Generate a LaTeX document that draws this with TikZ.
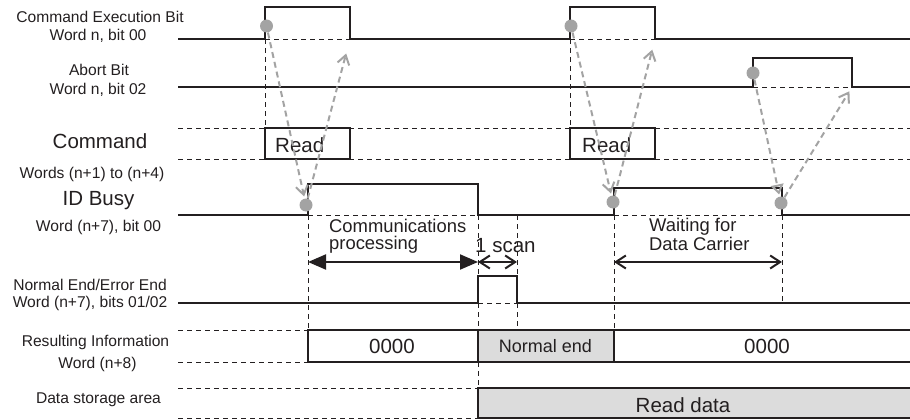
\documentclass[tikz,border=0pt]{standalone}
\usepackage{fontspec}
\setmainfont{Liberation Sans}
\usepackage{tikz}
\usetikzlibrary{arrows.meta,positioning,calc}
\definecolor{ink}{HTML}{231F20}
\definecolor{tapgray}{HTML}{A3A3A3}
\definecolor{fillgray}{HTML}{DCDCDC}

\begin{document}
\begin{tikzpicture}[x=1pt,y=-1pt,>=Latex,
 sig/.style={draw=ink,line width=2pt},
 guide/.style={draw=ink,line width=0.9pt,dash pattern=on 5pt off 4pt},
 trig/.style={draw=tapgray,line width=2pt,dash pattern=on 6pt off 4pt,-{Straight Barb[length=9pt,width=12pt]}},
 tapdot/.style={circle,fill=tapgray,minimum size=13pt,inner sep=0pt},
 lbl/.style={anchor=base,inner sep=0pt,text=ink,font=\fontsize{15.6}{17}\selectfont},
 biglbl/.style={anchor=base,inner sep=0pt,text=ink,font=\fontsize{20.5}{22}\selectfont},
 midlbl/.style={anchor=base west,inner sep=0pt,text=ink,align=left,font=\fontsize{18.4}{16.5}\selectfont},
 span/.style={draw=ink,line width=2pt,{Straight Barb[length=10pt,width=13pt]}-{Straight Barb[length=10pt,width=13pt]}}]
 \useasboundingbox (0,0) rectangle (910,420);
 % row labels
 \node[lbl] (cebA) at (100,23) {Command Execution Bit};
 \node[lbl] (cebB) at (98,41) {Word n, bit 00};
 \node[lbl] (abtA) at (99,76) {Abort Bit};
 \node[lbl] (abtB) at (98,94) {Word n, bit 02};
 \node[biglbl] (cmdA) at (100,148) {Command};
 \node[lbl] (cmdB) at (92,178) {Words (n+1) to (n+4)};
 \node[biglbl] (bsyA) at (98.5,205) {ID Busy};
 \node[lbl] (bsyB) at (98.5,231) {Word (n+7), bit 00};
 \node[lbl] (nrmA) at (90,290) {Normal End/Error End};
 \node[lbl] (nrmB) at (90,307) {Word (n+7), bits 01/02};
 \node[lbl] (resA) at (95.5,346) {Resulting Information};
 \node[lbl] (resB) at (97.5,368) {Word (n+8)};
 \node[lbl] (datA) at (98.5,403) {Data storage area};
 % dashed guides
 \draw[guide] (178,128) -- (910,128) (178,159) -- (910,159);
 \draw[guide] (178,330) -- (308,330) (178,362) -- (308,362);
 \draw[guide] (178,388) -- (478,388) (178,418) -- (478,418);
 \draw[guide] (265,39) -- (350,39) (570,39) -- (655,39) (753,87) -- (852,87);
 \draw[guide] (308,215) -- (478,215) (614,215) -- (782,215) (478,303) -- (517,303);
 \draw[guide] (265,39) -- (265,128) (570,39) -- (570,128);
 \draw[guide] (308,215) -- (308,330) (614,215) -- (614,330) (782,215) -- (782,303);
 \draw[guide] (478,215) -- (478,276) (478,303) -- (478,330) (478,362) -- (478,388);
 \draw[guide] (517,215) -- (517,276) (517,303) -- (517,330);
 % waveforms
 \draw[sig] (178,39) -- (265,39) -- (265,7) -- (350,7) -- (350,39) -- (570,39) -- (570,7) -- (655,7) -- (655,39) -- (910,39);
 \draw[sig] (178,87) -- (753,87) -- (753,58) -- (852,58) -- (852,87) -- (910,87);
 \draw[sig] (265,128) rectangle (350,159) (570,128) rectangle (655,159);
 \draw[sig] (178,215) -- (308,215) -- (308,184) -- (478,184) -- (478,215) -- (614,215) -- (614,188) -- (782,188) -- (782,215) -- (910,215);
 \draw[sig] (178,303) -- (478,303) -- (478,276) -- (517,276) -- (517,303) -- (910,303);
 \fill[fillgray] (478,330) rectangle (614,362);
 \draw[sig] (910,330) -- (308,330) -- (308,362) -- (910,362) (478,330) -- (478,362) (614,330) -- (614,362);
 \filldraw[sig,fill=fillgray] (910,388) -- (478,388) -- (478,418) -- (910,418);
 % values
 \node[biglbl,anchor=base west] (rdA) at (275,152) {Read};
 \node[biglbl,anchor=base west] (rdB) at (582,152) {Read};
 \node[biglbl] (resV1) at (392,353) {0000};
 \node[midlbl,anchor=base,font=\fontsize{18}{19}\selectfont] (resV2) at (545.5,352) {Normal end};
 \node[biglbl] (resV3) at (767,353) {0000};
 \node[biglbl] (datV) at (683,412) {Read data};
 % spans
 \coordinate (arr) at (0,262);
 \coordinate (tC) at (308,215);
 \coordinate (tD) at (478,215);
 \coordinate (tE) at (517,215);
 \coordinate (tH) at (614,215);
 \coordinate (tK) at (782,215);
 \draw[draw=ink,line width=2pt,{Triangle[length=18pt,width=15pt]}-{Triangle[length=18pt,width=15pt]}] (tC |- arr) -- (tD |- arr);
 \draw[span] (tD |- arr) -- (tE |- arr);
 \draw[span] (tH |- arr) -- (tK |- arr);
 \node[midlbl] (comm) at (329,249) {Communications\\processing};
 \node[biglbl,anchor=base west] (scan) at (475,252) {1 scan};
 \node[midlbl] (wait) at (649,250) {Waiting for\\Data Carrier};
 % read / abort handshakes
 \node[tapdot] (ceb1) at (266.5,26) {};
 \node[tapdot] (ceb2) at (571,26) {};
 \node[tapdot] (abt) at (753,73) {};
 \node[tapdot] (bsy1) at (306,205) {};
 \node[tapdot] (bsy2) at (613,202) {};
 \node[tapdot] (bsy3) at (781,203) {};
 \coordinate (cebOff1) at (350,39);
 \coordinate (cebOff2) at (655,39);
 \coordinate (abtOff) at (852,87);
 \draw[trig,shorten >=2pt] (ceb1) -- (bsy1);
 \draw[trig,shorten >=15pt] (bsy1) -- (cebOff1);
 \draw[trig,shorten >=2pt] (ceb2) -- (bsy2);
 \draw[trig,shorten >=11pt] (bsy2) -- (cebOff2);
 \draw[trig,shorten >=2pt,-{Triangle[open,length=10pt,width=13pt]}] (abt) -- (bsy3);
 \draw[trig,shorten >=5pt] (bsy3) -- (abtOff);
\end{tikzpicture}
\end{document}
